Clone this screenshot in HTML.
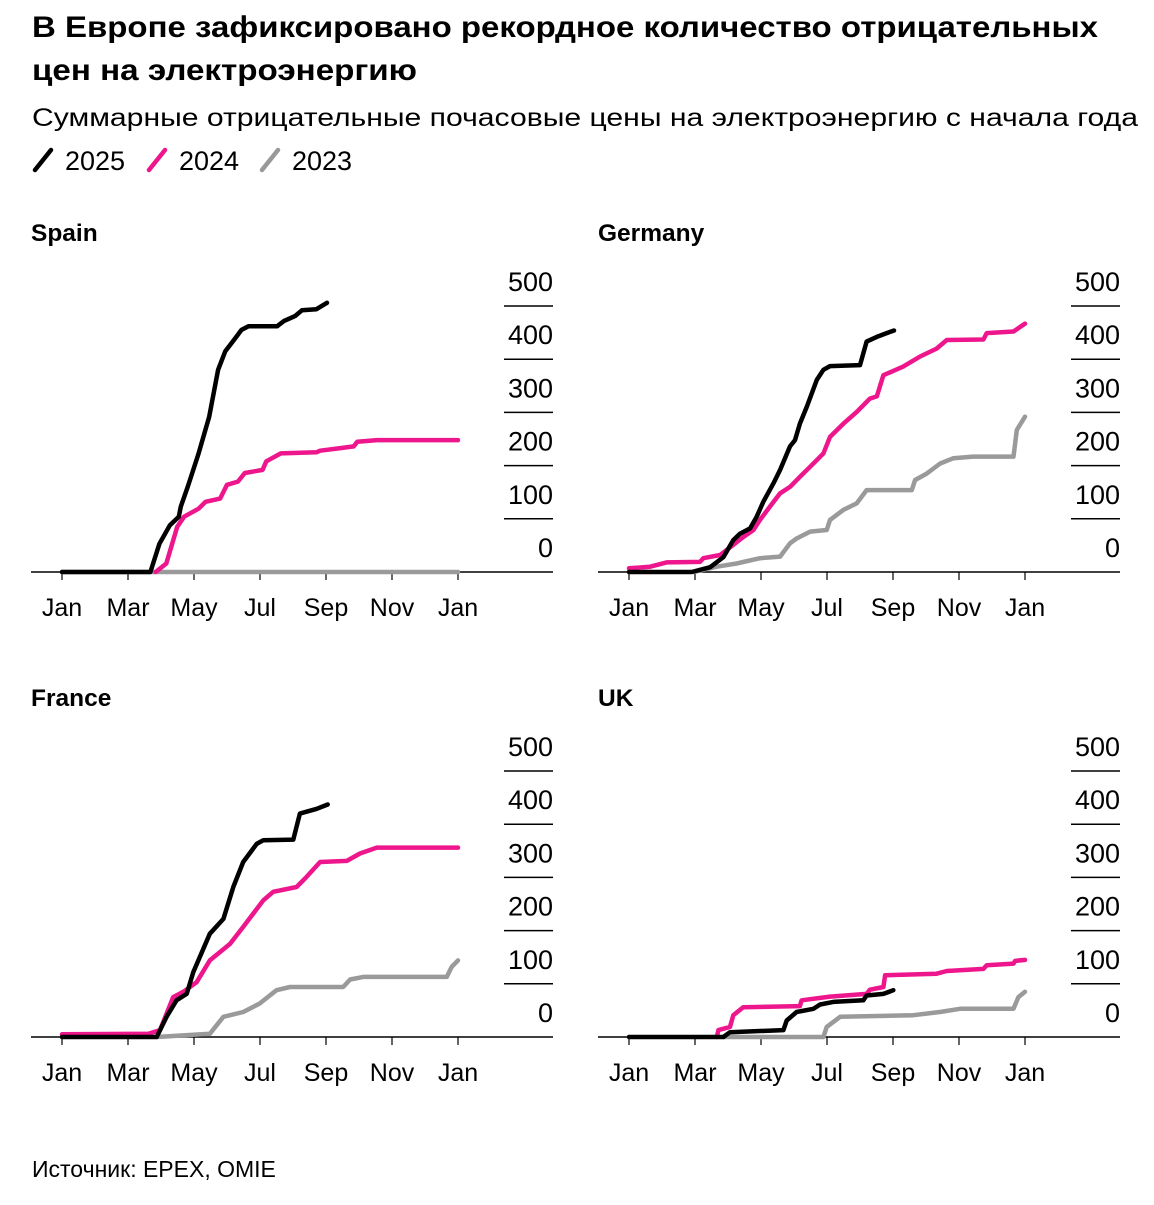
<!DOCTYPE html>
<html><head><meta charset="utf-8"><style>
body{margin:0;background:#fff;}
svg text{font-family:"Liberation Sans",Arial,sans-serif;}
</style></head>
<body>
<svg id="c" width="1154" height="1200" viewBox="0 0 1154 1200" xmlns="http://www.w3.org/2000/svg">
<text x="32" y="37" font-size="30" font-weight="bold" textLength="1066" lengthAdjust="spacingAndGlyphs">В Европе зафиксировано рекордное количество отрицательных</text>
<text x="32" y="80" font-size="30" font-weight="bold" textLength="385" lengthAdjust="spacingAndGlyphs">цен на электроэнергию</text>
<text x="32" y="126" font-size="25" textLength="1106" lengthAdjust="spacingAndGlyphs">Суммарные отрицательные почасовые цены на электроэнергию с начала года</text>
<g>
<line x1="35" y1="170" x2="51" y2="150" stroke="#000" stroke-width="4.5" stroke-linecap="round"/>
<text x="65" y="170" font-size="27">2025</text>
<line x1="149" y1="170" x2="165" y2="150" stroke="#ee168c" stroke-width="4.5" stroke-linecap="round"/>
<text x="179" y="170" font-size="27">2024</text>
<line x1="262" y1="170" x2="278" y2="150" stroke="#999" stroke-width="4.5" stroke-linecap="round"/>
<text x="292" y="170" font-size="27">2023</text>
</g>
<text x="32" y="1177" font-size="23">Источник: EPEX, OMIE</text>
</svg>
<script>
// data: month index (0 = Jan, 12 = next Jan) and cumulative hours
const months = ["Jan","Mar","May","Jul","Sep","Nov","Jan"];
const yTicks = [0,100,200,300,400,500];
const panelNames = ["Spain","Germany","France","UK"];

const spain2025M = [0,2.68,2.95,3.27,3.54,3.6,3.81,4.14,4.46,4.73,4.95,5.22,5.44,5.65,6.52,6.73,7.06,7.27,7.71,8.03];
const spain2025V = [0,0,53,88,104,123,160,223,292,380,415,437,455,462,462,472,481,492,494,506];
const spain2024M = [2.84,3.16,3.49,3.7,4.14,4.35,4.79,5.0,5.33,5.54,6.08,6.19,6.63,7.71,7.82,8.47,8.84,8.95,9.55,12];
const spain2024V = [0,16,85,104,119,132,138,164,170,186,192,208,223,225,228,233,236,245,248,248];
const spain2023M = [0,12];
const spain2023V = [0,0];

const germany2025M = [0,1.9,2.46,2.86,3.16,3.36,3.67,3.87,4.07,4.38,4.58,4.88,5.03,5.18,5.39,5.69,5.89,6.09,7.0,7.2,7.51,7.81,8.03];
const germany2025V = [0,0,9,28,60,72,82,104,132,167,192,236,248,279,311,361,380,387,389,433,442,449,454];
const germany2024M = [0,0.64,1.14,2.15,2.25,2.76,3.16,3.47,3.77,3.97,4.27,4.58,4.88,5.18,5.49,5.89,6.09,6.5,6.9,7.3,7.51,7.71,8.31,8.82,9.32,9.63,10.74,10.84,11.65,12];
const germany2024V = [7,10,18,19,26,32,51,66,79,98,123,148,160,179,198,223,254,279,301,326,330,370,386,405,420,436,437,449,452,467];
const germany2023M = [1.95,2.66,3.26,3.97,4.58,4.88,5.08,5.49,5.99,6.09,6.5,6.9,7.2,8.57,8.67,9.02,9.43,9.83,10.43,11.65,11.75,12];
const germany2023V = [0,10,16,26,29,54,63,76,79,98,117,129,154,154,173,185,204,214,217,217,267,292];

const france2025M = [0,2.87,3.17,3.47,3.78,3.98,4.48,4.89,5.19,5.49,5.9,6.1,7.01,7.21,7.72,8.05];
const france2025V = [0,0,38,69,81,122,194,222,282,329,363,370,371,420,429,437];
const france2024M = [0,2.62,2.97,3.37,3.68,4.08,4.48,5.09,5.49,6.1,6.4,7.11,7.41,7.82,8.63,9.03,9.54,12];
const france2024V = [5,6,13,75,85,103,144,175,207,257,273,282,301,329,331,345,356,356];
const france2023M = [2.87,4.48,4.89,5.49,5.99,6.5,6.91,8.52,8.73,9.13,11.66,11.81,12];
const france2023V = [0,6,38,47,63,88,94,94,108,113,113,132,144];

const uk2025M = [0,2.86,3.06,4.68,4.78,5.08,5.59,5.79,6.19,7.1,7.2,7.71,8.01];
const uk2025V = [0,0,9,13,31,47,53,61,66,69,78,81,88];
const uk2024M = [2.66,2.71,3.06,3.16,3.46,5.18,5.23,6.09,7.2,7.3,7.71,7.76,9.32,9.63,10.74,10.84,11.65,11.7,12];
const uk2024V = [0,13,19,41,56,58,69,76,81,89,94,116,119,124,128,135,138,143,145];
const uk2023M = [2.86,5.89,5.99,6.4,8.61,9.42,10.03,11.65,11.8,12];
const uk2023V = [0,0,19,38,41,47,53,53,75,85];

const panels = [
 {ox:0, oy:0, s:[[spain2023M,spain2023V],[spain2024M,spain2024V],[spain2025M,spain2025V]]},
 {ox:567, oy:0, s:[[germany2023M,germany2023V],[germany2024M,germany2024V],[germany2025M,germany2025V]]},
 {ox:0, oy:465, s:[[france2023M,france2023V],[france2024M,france2024V],[france2025M,france2025V]]},
 {ox:567, oy:465, s:[[uk2023M,uk2023V],[uk2024M,uk2024V],[uk2025M,uk2025V]]}
];
const colors = ["#9a9a9a","#ee168c","#000"];
const years = ["2023","2024","2025"];
const svg = document.getElementById('c');
const NS = "http://www.w3.org/2000/svg";
function mk(tag, attrs){const e=document.createElementNS(NS,tag);for(const k in attrs)e.setAttribute(k,attrs[k]);svg.appendChild(e);return e;}

panels.forEach((p,i)=>{
  const xs = m => 62 + p.ox + m*33;
  const ys = v => 572 + p.oy - v*0.532;
  const name = panelNames[i].toLowerCase();
  const t = mk('text',{x:31+p.ox,y:241+p.oy,'font-size':24.5,'font-weight':'bold'});
  t.textContent = panelNames[i];
  
  
  const bl = mk('line',{x1:31+p.ox,y1:ys(0),x2:553+p.ox,y2:ys(0),stroke:'#000','stroke-width':1.5});
  
  
  yTicks.forEach(v=>{
    if(v>0){
      const l = mk('line',{x1:504+p.ox,y1:ys(v),x2:553+p.ox,y2:ys(v),stroke:'#000','stroke-width':1.5});
      
      
    }
    const tx = mk('text',{x:553+p.ox,y:ys(v)-15,'font-size':27,'text-anchor':'end'});
    tx.textContent = v;
    
    
  });
  months.forEach((mn,k)=>{
    const x = xs(k*2);
    const tk = mk('line',{x1:x,y1:ys(0),x2:x,y2:ys(0)+8,stroke:'#000','stroke-width':1.2});
    
    
    const tl = mk('text',{x:x,y:ys(0)+44,'font-size':25,'text-anchor':'middle'});
    tl.textContent = mn;
    
    
  });
  p.s.forEach((sr,j)=>{
    const pts = sr[0].map((m,q)=>xs(m).toFixed(1)+','+ys(sr[1][q]).toFixed(1)).join(' ');
    const pl = mk('polyline',{points:pts,fill:'none',stroke:colors[j],'stroke-width':4.5,'stroke-linejoin':'round','stroke-linecap':'round'});
    
    
  });
});
</script>
</body></html>
